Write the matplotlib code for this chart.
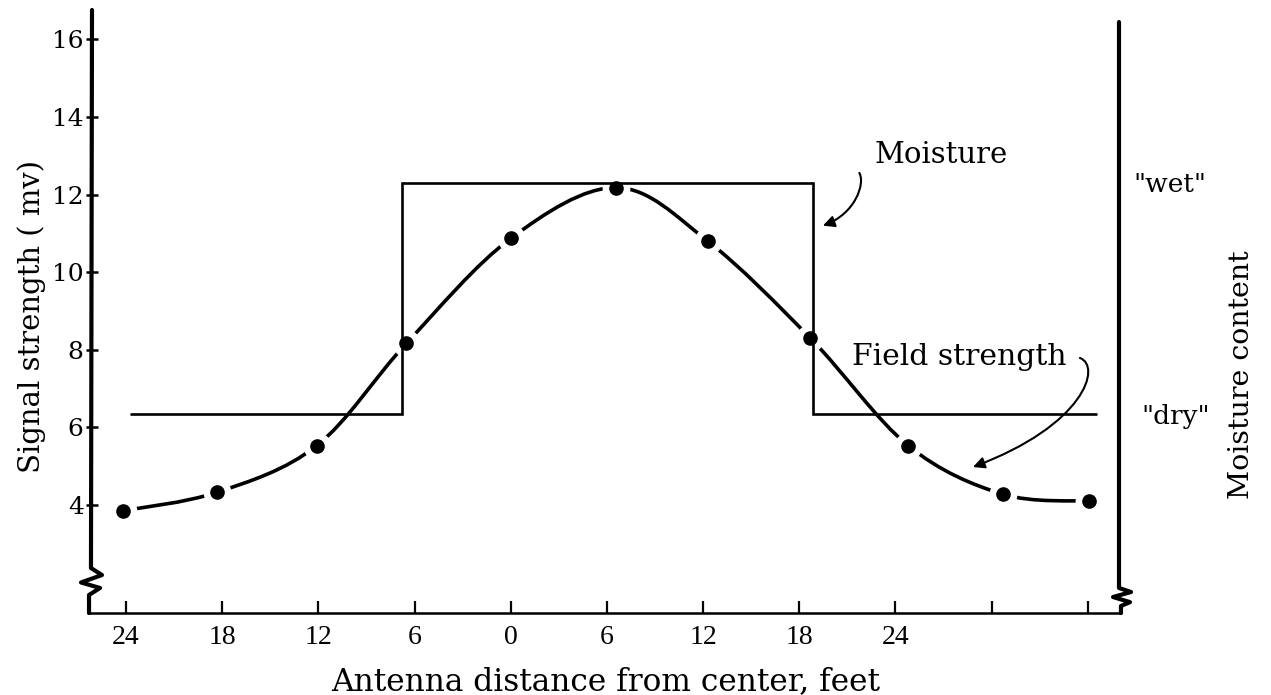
#!/usr/bin/python
#coding: utf8

##
## => Signal strength / moisture content vs antenna distance
##

import numpy as np
import matplotlib
matplotlib.use("Agg")
import matplotlib.pyplot as plt
from matplotlib.path import Path
from matplotlib.patches import PathPatch, FancyArrowPatch


## field strength readings (mv), antenna position in feet
field_x = [-24.2, -18.3, -12.1, -6.5, 0.0, 6.6, 12.3, 18.7, 24.8, 30.7, 36.1]
field_y = [3.85, 4.33, 5.53, 8.17, 10.87, 12.18, 10.80, 8.30, 5.53, 4.28, 4.10]

## moisture step ("dry" / "wet" / "dry")
moisture_edges = [-23.75, -6.80, 18.88, 36.55]
moisture_levels = [6.35, 12.29, 6.35]

## axes ticks
x_ticks = [-24, -18, -12, -6, 0, 6, 12, 18, 24, 30, 36]
x_tick_labels = ["24", "18", "12", "6", "0", "6", "12", "18", "24", "", ""]
y_ticks = [4, 6, 8, 10, 12, 14, 16]


def smooth_path(xs, ys):
    """
    catmull-rom curve through the points, as bezier segments
    """
    pts = np.column_stack([xs, ys])
    ext = np.vstack([pts[0], pts, pts[-1]])
    verts = [pts[0]]
    codes = [Path.MOVETO]
    for i in range(len(pts) - 1):
        p0, p1, p2, p3 = ext[i], ext[i + 1], ext[i + 2], ext[i + 3]
        verts += [p1 + (p2 - p0) / 6.0, p2 - (p3 - p1) / 6.0, p2]
        codes += [Path.CURVE4] * 3
    return Path(verts, codes)


def curved_arrow(ax, pts):
    """
    hand drawn pointer: one bezier (start, ctrl, ctrl, end)
    """
    path = Path(pts, [Path.MOVETO, Path.CURVE4, Path.CURVE4, Path.CURVE4])
    ax.add_patch(FancyArrowPatch(path=path, arrowstyle="-|>", color="black",
                                 lw=1.5, mutation_scale=17, zorder=6))


def plot_chart():

    fig = plt.figure(figsize=(12.71, 6.95), dpi=100)
    ax = fig.add_axes([92 / 1271.0, 82 / 695.0, 1027 / 1271.0, 603 / 695.0])
    ax.set_xlim(-26.12, 37.95)
    ax.set_ylim(1.217, 16.758)

    ## field strength curve, with a gap around every dot
    ax.add_patch(PathPatch(smooth_path(field_x, field_y), facecolor="none",
                           edgecolor="black", lw=2.6, zorder=2))
    ax.plot(field_x, field_y, "o", ms=20, mfc="white", mec="none", zorder=3)
    ax.plot(field_x, field_y, "o", ms=9.5, mfc="black", mec="black", zorder=5)

    ## moisture step
    ax.stairs(moisture_levels, moisture_edges, baseline=None,
              color="black", lw=1.9, zorder=4)

    ## hand drawn axes with breaks
    for s in ax.spines.values():
        s.set_visible(False)
    kw = dict(transform=ax.transAxes, clip_on=False, color="black",
              solid_joinstyle="round", solid_capstyle="round")
    ax.plot([0.0, -0.001, 0.0097, -0.0107, 0.0078, -0.0029, -0.0029],
            [1.0, 0.0746, 0.063, 0.0506, 0.0415, 0.0299, 0.0], lw=3.0, **kw)
    ax.plot([1.0, 1.0, 1.0117, 0.9942, 1.0107, 1.0019, 1.0019],
            [0.98, 0.0415, 0.0348, 0.0265, 0.018, 0.0116, 0.0], lw=3.0, **kw)
    ax.plot([-0.0039, 1.0019], [0.0, 0.0], lw=1.8, **kw)

    ## ticks
    ax.set_xticks(x_ticks)
    ax.set_xticklabels(x_tick_labels, family="Liberation Serif", fontsize=20)
    ax.set_yticks(y_ticks)
    ax.set_yticklabels([str(v) for v in y_ticks], family="DejaVu Serif",
                       fontsize=18)
    ax.tick_params(axis="x", direction="in", length=9, width=1.6, pad=9)
    ax.tick_params(axis="y", direction="inout", length=9, width=1.8, pad=1.5)
    ax.tick_params(top=False, right=False)

    ## labels
    ax.set_ylabel("Signal strength ( mv)", family="DejaVu Serif", fontsize=21)
    ax.yaxis.set_label_coords(-0.045, 0.4925)
    ax.text(0.5, -0.128, "Antenna distance from center, feet",
            transform=ax.transAxes, ha="center", va="baseline",
            family="DejaVu Serif", fontsize=22.5)
    ax.text(1.1188, 0.395, "Moisture content", transform=ax.transAxes,
            rotation=90, ha="center", va="center",
            family="DejaVu Serif", fontsize=20.5)
    ax.text(38.82, 12.27, '"wet"', ha="left", va="center", clip_on=False,
            family="DejaVu Serif", fontsize=19)
    ax.text(39.32, 6.29, '"dry"', ha="left", va="center", clip_on=False,
            family="DejaVu Serif", fontsize=19)
    ax.text(22.72, 13.02, "Moisture", ha="left", va="center",
            family="DejaVu Serif", fontsize=21)
    ax.text(21.27, 7.81, "Field strength", ha="left", va="center",
            family="DejaVu Serif", fontsize=21.5)

    ## arrows
    curved_arrow(ax, [(21.75, 12.56), (22.13, 12.29), (21.51, 11.51), (19.48, 11.20)])
    curved_arrow(ax, [(35.51, 7.79), (36.88, 7.58), (35.83, 6.06), (28.84, 4.98)])

    fig.savefig("out.png", dpi=100)
    plt.close(fig)


plot_chart()
